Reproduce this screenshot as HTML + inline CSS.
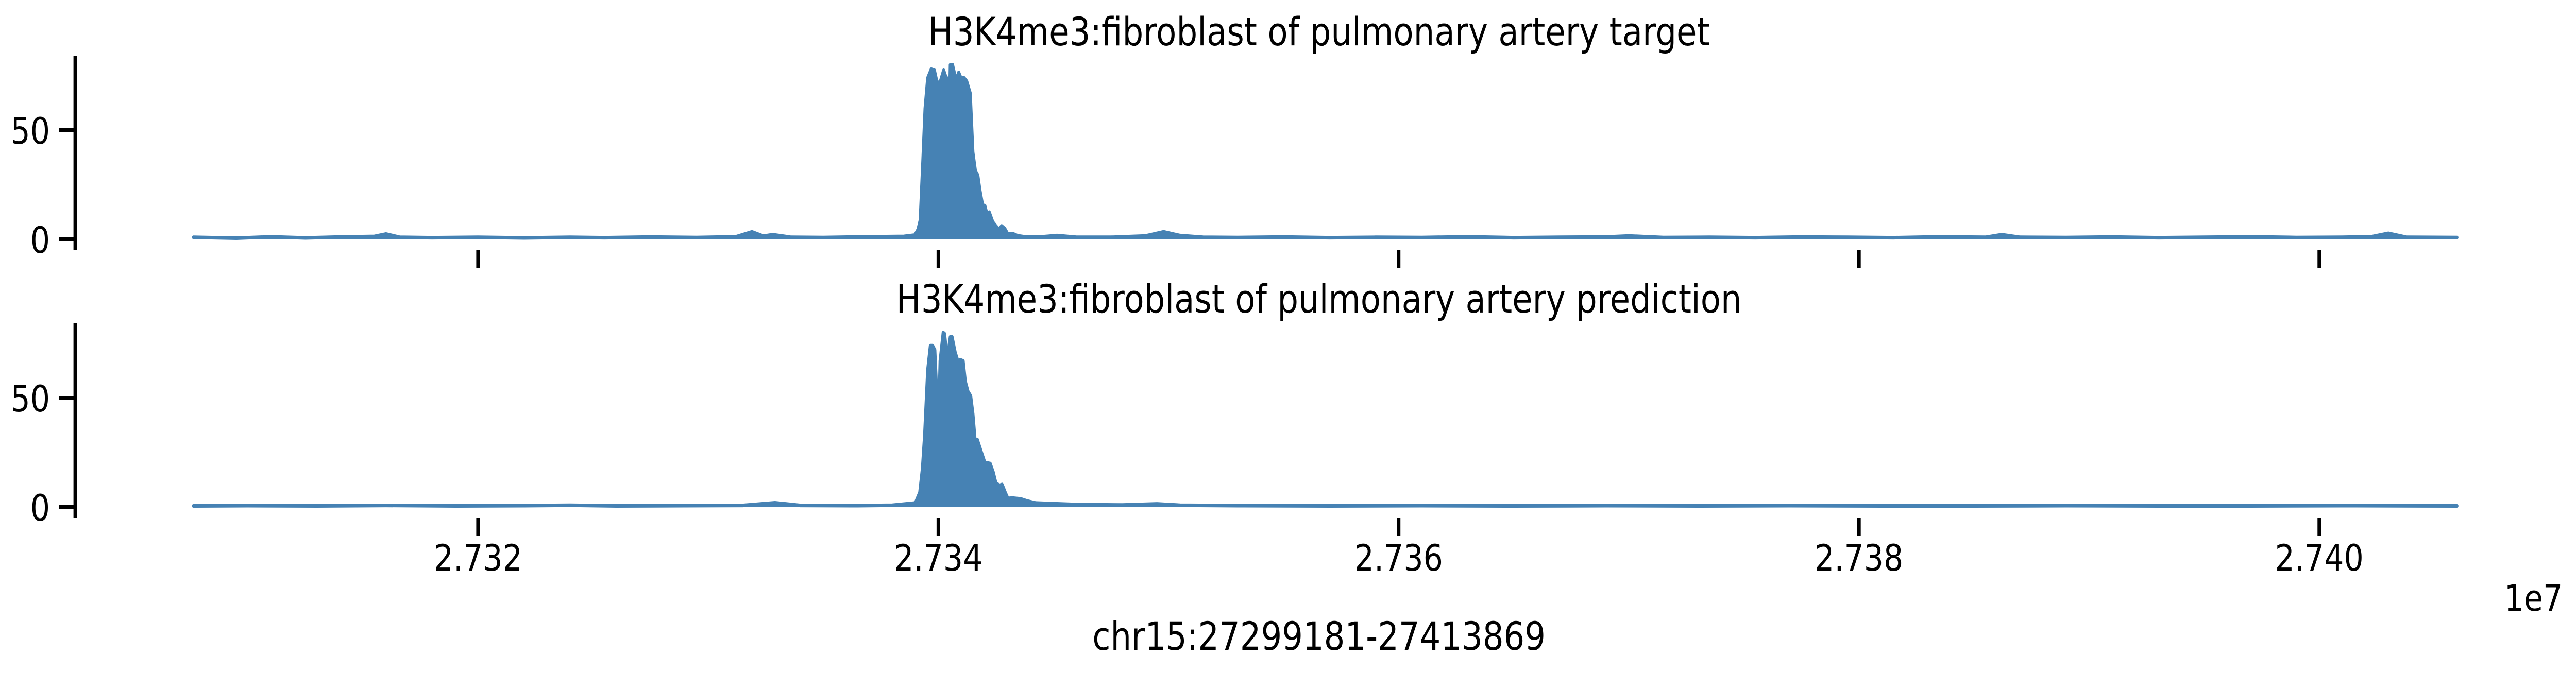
<!DOCTYPE html>
<html><head><meta charset="utf-8">
<style>
html,body{margin:0;padding:0;background:#fff;overflow:hidden;width:100%;height:100%;}
svg{display:block;width:100vw;height:100vh;}
text{font-family:"DejaVu Sans","Liberation Sans",sans-serif;fill:#000;}
</style></head>
<body>
<svg id="chart" viewBox="0 0 5820 1307" preserveAspectRatio="none" xmlns="http://www.w3.org/2000/svg">
  <text x="2980" y="88" font-size="76" text-anchor="middle" textLength="1766" lengthAdjust="spacingAndGlyphs">H3K4me3:fibroblast of pulmonary artery target</text>
  <text x="2980" y="607" font-size="76" text-anchor="middle" textLength="1910" lengthAdjust="spacingAndGlyphs">H3K4me3:fibroblast of pulmonary artery prediction</text>
  <text x="2980" y="1262" font-size="76" text-anchor="middle" textLength="1024" lengthAdjust="spacingAndGlyphs">chr15:27299181-27413869</text>
  <text x="5790" y="1186" font-size="70" text-anchor="end">1e7</text>
  <g id="top"></g>
  <g id="bottom"></g>
</svg>
<script>
// x tick values (bp) and labels
const xTickValues = [27320000, 27340000, 27360000, 27380000, 27400000];
const xTickLabels = ["2.732", "2.734", "2.736", "2.738", "2.740"];
const yTickValues = [0, 50];
const yTickLabels = ["0", "50"];

// target track: genomic positions (bp) and signal values
const targetPos = [27307635,27309500,27311000,27312500,27314000,27315500,27316000,27316600,27318000,27320000,27322000,27324000,27325500,27327500,27329500,27331200,27331900,27332400,27332800,27333600,27335000,27337000,27338500,
27338981,27339115,27339212,27339327,27339423,27339538,27339692,27339827,27339942,27340077,27340231,27340327,27340404,27340462,27340519,27340615,27340769,27340885,27340981,27341115,27341231,27341385,27341500,27341615,27341712,27341808,27341923,27342019,27342115,27342212,27342365,27342500,27342635,27342750,27342885,27343019,27343231,27343442,27343692,
27344500,27345154,27346000,27347500,27349000,27349788,27350500,27351500,27353000,27355000,27357000,27359000,27361000,27363000,27365000,27367000,27369000,27370000,27371500,27373500,27375500,27377500,27379500,27381500,27383500,27385500,27386200,27387000,27389000,27391000,27393000,27395000,27397000,27399000,27401000,27402300,27403000,27403800,27405981];
const targetVal = [1.0,0.6,1.2,0.7,1.1,1.4,2.5,1.0,0.8,1.0,0.7,1.0,0.8,1.1,0.9,1.2,3.5,1.5,2.2,1.0,0.9,1.2,1.4,
2.0,4.6,8.8,36,60,74,78,77.5,72,72,77.5,74.5,73.5,51,80,80,73,76.5,74,74,72.5,67,40,31,29.6,22.5,15.7,15.5,11.5,12.5,8,6.2,4.6,6.2,5,2.5,2.7,1.7,1.3,
1.2,1.8,1.0,1.0,1.6,3.5,1.8,1.0,0.9,1.1,0.8,1.0,0.9,1.2,0.8,1.0,1.1,1.6,0.9,1.0,0.8,1.1,1.0,0.8,1.2,1.0,2.2,1.0,0.9,1.1,0.8,1.0,1.2,0.9,1.0,1.3,2.8,1.0,0.9];

// prediction track: genomic positions (bp) and signal values
const predPos = [27307635,27310000,27313000,27316000,27319000,27322000,27324000,27326000,27329000,27331500,27332900,27334000,27336500,27338000,
27339000,27339192,27339307,27339404,27339538,27339654,27339750,27339846,27340000,27340077,27340212,27340269,27340385,27340519,27340596,27340731,27340847,27340962,27341077,27341174,27341289,27341404,27341501,27341597,27341693,27341847,27342020,27342251,27342386,27342501,27342655,27342771,27342905,27343021,27343213,27343579,27343867,27344233,
27346000,27348000,27349500,27350500,27353000,27357000,27361000,27365000,27369000,27373000,27377000,27381000,27385000,27389000,27393000,27397000,27401000,27405981];
const predVal = [0.6,0.7,0.6,0.8,0.6,0.7,0.9,0.6,0.7,0.8,2.0,0.8,0.7,0.9,
1.9,6.8,17.7,33,63,74,74,72,35,67,80,79.5,68,78,78,71,67,67.5,67,57.5,53,51,42.7,30.7,31,26,20.5,20,16,11,10,10.4,6.8,4,4.2,3.8,2.8,1.9,
1.2,1.0,1.5,0.9,0.7,0.6,0.7,0.6,0.7,0.6,0.7,0.6,0.6,0.7,0.6,0.6,0.7,0.6];

const NS = "http://www.w3.org/2000/svg";
const X0 = 27320000, PX0 = 1080, PXPERBP = 0.052;
function xScale(bp){ return PX0 + (bp - X0) * PXPERBP; }

function mk(tag, attrs, parent){
  const e = document.createElementNS(NS, tag);
  for (const k in attrs) e.setAttribute(k, attrs[k]);
  parent.appendChild(e);
  return e;
}

function drawTrack(g, zeroY, pxPerUnit, spineTop, spineBottom, pos, val, showLabels){
  const yScale = v => zeroY - v * pxPerUnit;
  let d = "M" + xScale(pos[0]).toFixed(1) + "," + yScale(0);
  for (let i = 0; i < pos.length; i++) d += " L" + xScale(pos[i]).toFixed(1) + "," + yScale(val[i]).toFixed(1);
  d += " L" + xScale(pos[pos.length-1]).toFixed(1) + "," + yScale(0) + " Z";
  const area = mk("path", {d: d, fill: "#4682b4", stroke: "none"}, g);
  
  
  let l = "";
  for (let i = 0; i < pos.length; i++) l += (i ? " L" : "M") + xScale(pos[i]).toFixed(1) + "," + yScale(val[i]).toFixed(1);
  const line = mk("path", {d: l, fill: "none", stroke: "#4682b4", "stroke-width": 7, "stroke-linejoin": "round", "stroke-linecap": "round"}, g);
  
  
  const sp = mk("line", {x1: 170, x2: 170, y1: spineTop, y2: spineBottom, stroke: "#000", "stroke-width": 8}, g);
  
  
  for (let i = 0; i < yTickValues.length; i++){
    const y = yScale(yTickValues[i]);
    const t = mk("line", {x1: 133, x2: 170, y1: y, y2: y, stroke: "#000", "stroke-width": 8}, g);
    
    
    const tl = mk("text", {x: 113, y: y + 26, "font-size": 70, "text-anchor": "end"}, g);
    tl.textContent = yTickLabels[i];
    
    
  }
  for (let i = 0; i < xTickValues.length; i++){
    const x = xScale(xTickValues[i]);
    const t = mk("line", {x1: x, x2: x, y1: spineBottom, y2: spineBottom + 34, stroke: "#000", "stroke-width": 8}, g);
    
    
    if (showLabels){
      const tl = mk("text", {x: x, y: spineBottom + 102, "font-size": 70, "text-anchor": "middle"}, g);
      tl.textContent = xTickLabels[i];
      
      
    }
  }
}
drawTrack(document.getElementById("top"), 465, 4.24, 108, 486, targetPos, targetVal, false);
drawTrack(document.getElementById("bottom"), 985, 4.24, 628, 1006, predPos, predVal, true);
</script>
</body></html>
